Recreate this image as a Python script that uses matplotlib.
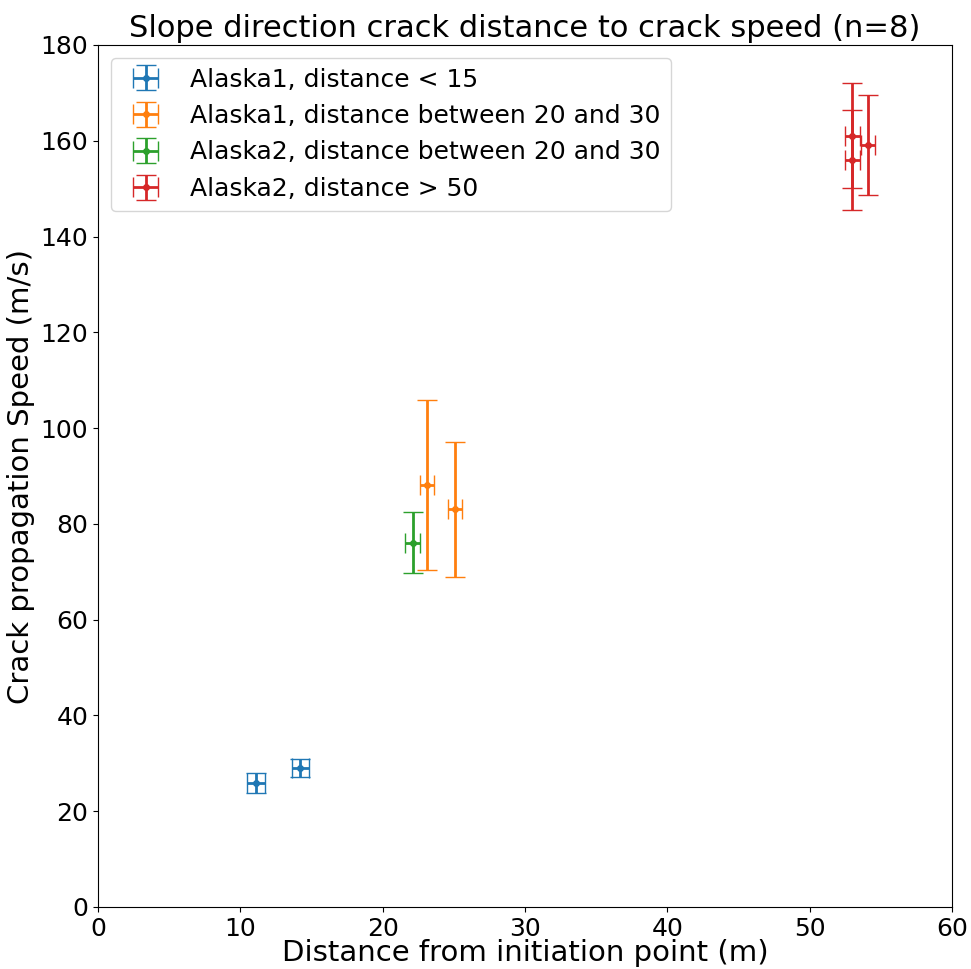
import numpy as np
import matplotlib.pyplot as plt

# Datos
labels = ["Alaska1, distance < 15",
          "Alaska1, distance between 20 and 30",
          "Alaska2, distance between 20 and 30",
          "Alaska2, distance > 50"]

dist_a1_near = [11.1, 14.2]
speed_a1_near = [25.9, 29.0]
xerr_a1_near = [0.6, 0.6]
yerr_a1_near = [2.0, 1.9]

dist_a1_mid = [23.1, 25.1]
speed_a1_mid = [88.1, 83.1]
xerr_a1_mid = [0.5, 0.5]
yerr_a1_mid = [17.7, 14.1]

dist_a2_mid = [22.1]
speed_a2_mid = [76.1]
xerr_a2_mid = [0.55]
yerr_a2_mid = [6.4]

dist_a2_far = [53.0, 53.0, 54.1]
speed_a2_far = [161.1, 156.0, 159.1]
xerr_a2_far = [0.55, 0.55, 0.5]
yerr_a2_far = [10.9, 10.4, 10.5]

series = [
    (dist_a1_near, speed_a1_near, xerr_a1_near, yerr_a1_near),
    (dist_a1_mid, speed_a1_mid, xerr_a1_mid, yerr_a1_mid),
    (dist_a2_mid, speed_a2_mid, xerr_a2_mid, yerr_a2_mid),
    (dist_a2_far, speed_a2_far, xerr_a2_far, yerr_a2_far),
]

fig = plt.figure(figsize=(9.71, 9.69), dpi=100)
ax = fig.add_axes([98 / 971, 62 / 969, 854 / 971, 862 / 969])

for (x, y, xe, ye), lab in zip(series, labels):
    ax.errorbar(x, y, xerr=xe, yerr=ye, fmt='o', markersize=4,
                elinewidth=2, capsize=7, capthick=1, label=lab)

ax.set_xlim(0, 60)
ax.set_ylim(0, 180)
ax.set_title("Slope direction crack distance to crack speed (n=8)", fontsize=22)
ax.set_xlabel("Distance from initiation point (m)", fontsize=21, labelpad=-1)
ax.set_ylabel("Crack propagation Speed (m/s)", fontsize=21)
ax.tick_params(labelsize=18)
ax.legend(loc='upper left', fontsize=18)

fig.savefig("out.png", dpi=100)
